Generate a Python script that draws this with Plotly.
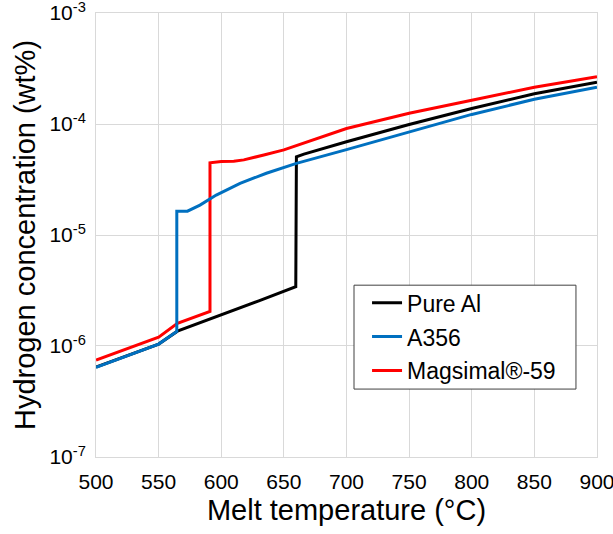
import plotly.graph_objects as go

# Data
pure_al_T = [500, 550, 565, 600, 630, 659.5, 660, 666, 700, 750, 800, 850, 900]
pure_al_H = [6.45e-7, 1.04e-6, 1.36e-6, 1.9e-6, 2.55e-6, 3.42e-6, 5.07e-5, 5.35e-5,
             6.93e-5, 9.9e-5, 1.38e-4, 1.87e-4, 2.38e-4]

a356_T = [500, 550, 564.5, 564.5, 573, 583, 596, 615, 636, 660, 700, 750, 800, 850, 900]
a356_H = [6.43e-7, 1.04e-6, 1.35e-6, 1.64e-5, 1.64e-5, 1.86e-5, 2.29e-5, 2.92e-5,
          3.6e-5, 4.42e-5, 5.88e-5, 8.5e-5, 1.22e-4, 1.67e-4, 2.14e-4]

mag_T = [500, 550, 565, 591, 591, 600, 610, 618, 634, 650, 700, 750, 800, 850, 900]
mag_H = [7.48e-7, 1.2e-6, 1.6e-6, 2.05e-6, 4.48e-5, 4.6e-5, 4.62e-5, 4.75e-5,
         5.26e-5, 5.85e-5, 9.1e-5, 1.25e-4, 1.64e-4, 2.14e-4, 2.67e-4]

series_names = ["Pure Al", "A356", "Magsimal®-59"]
series_colors = ["#000000", "#0070C0", "#FF0000"]

x_ticks = [500, 550, 600, 650, 700, 750, 800, 850, 900]
y_tickvals = [1e-7, 1e-6, 1e-5, 1e-4, 1e-3]
y_ticktext = ["10<sup>-7</sup>", "10<sup>-6</sup>", "10<sup>-5</sup>",
              "10<sup>-4</sup>", "10<sup>-3</sup>"]

FONT = "Liberation Sans, Arial, sans-serif"

fig = go.Figure()
data = [(pure_al_T, pure_al_H), (a356_T, a356_H), (mag_T, mag_H)]
# draw order: black first, then red, then blue on top (blue covers black at low T)
order = [0, 2, 1]
for i in order:
    T, H = data[i]
    fig.add_trace(go.Scatter(
        x=T, y=H, mode="lines", name=series_names[i],
        line=dict(color=series_colors[i], width=3),
        legendgroup=series_names[i], legendrank=i + 1,
    ))

grid = "#d9d9d9"

# legend frame (paper coordinates), legend entries drawn on top of it
fig.add_shape(type="rect", xref="paper", yref="paper",
              x0=0.515, x1=0.958, y0=0.153, y1=0.387,
              line=dict(color="#404040", width=1), fillcolor="white", layer="above")

fig.update_layout(
    width=613, height=534,
    margin=dict(l=96, r=16, t=13, b=77, autoexpand=False),
    paper_bgcolor="white", plot_bgcolor="white",
    font=dict(family=FONT, color="#000000", size=21),
    showlegend=True,
    legend=dict(
        x=0.541, y=0.396, xanchor="left", yanchor="top",
        bgcolor="rgba(0,0,0,0)", borderwidth=0,
        font=dict(family=FONT, size=23, color="#000000"),
        traceorder="grouped", tracegroupgap=1,
        itemwidth=30,
    ),
    xaxis=dict(
        range=[499.98, 900.02], tickvals=x_ticks, automargin=False,
        showgrid=True, gridcolor=grid, gridwidth=1,
        showline=True, linecolor=grid, linewidth=1, mirror=True,
        ticks="", zeroline=False, ticklabelstandoff=6, ticklabeloverflow="allow",
        tickfont=dict(family=FONT, size=21),
        title=dict(text="Melt temperature (°C)", font=dict(family=FONT, size=29), standoff=7),
    ),
    yaxis=dict(
        type="log", range=[-7.0002, -2.9998], automargin=False,
        tickvals=y_tickvals, ticktext=y_ticktext,
        showgrid=True, gridcolor=grid, gridwidth=1,
        showline=True, linecolor=grid, linewidth=1, mirror=True,
        ticks="", zeroline=False, ticklabelstandoff=5, ticklabeloverflow="allow",
        tickfont=dict(family=FONT, size=21),
        title=dict(text="Hydrogen concentration (wt%)", font=dict(family=FONT, size=29), standoff=5),
    ),
)

fig.write_html(
    "out.html",
    config={"displayModeBar": False},
    post_script="document.body.style.margin='0';document.body.style.overflow='hidden';",
)
